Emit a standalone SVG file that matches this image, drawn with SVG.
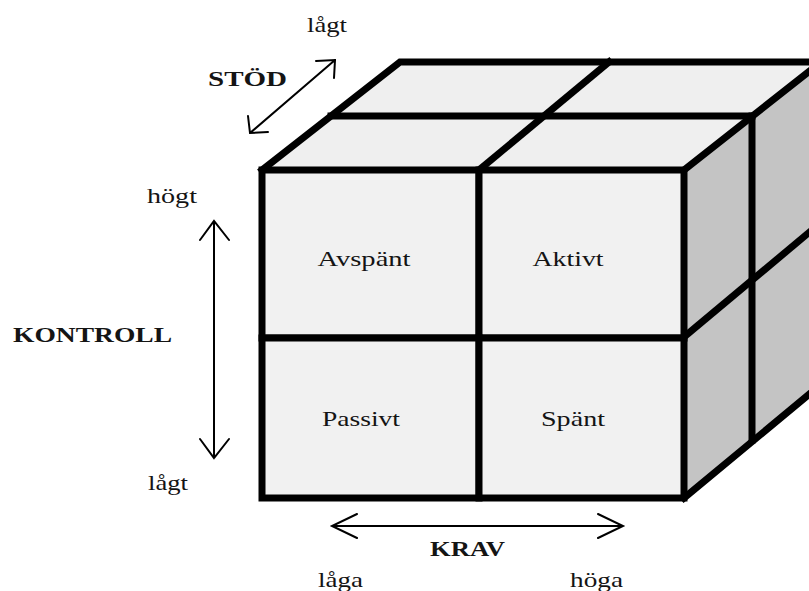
<svg xmlns="http://www.w3.org/2000/svg" width="809" height="591" viewBox="0 0 809 591">
<style>
.edge{fill:none;stroke:#000;stroke-width:7;stroke-linejoin:miter;stroke-linecap:square}
.top{fill:#efefef}
.side{fill:#c4c4c4}
.cell{fill:#f1f1f1;stroke:#000;stroke-width:7}
.arrow{fill:none;stroke:#000;stroke-width:2;stroke-linecap:round;stroke-linejoin:miter}
.lbl{font-family:"Liberation Serif","Times New Roman",serif;fill:#141414}
.cellt{font-size:22px;text-anchor:middle}
.axis{font-size:21px;font-weight:bold}
.small{font-size:21px}
</style>
<rect width="809" height="591" fill="#ffffff"/>
<g id="cube">
  <polygon class="top" points="262,170 400,62 830,62 684,170"/>
  <polygon class="side" points="684,170 830,55 830,377 684,498"/>
  <path class="edge" d="M262,170 L400,62 L830,62"/>
  <path class="edge" d="M331,116 L752,116"/>
  <path class="edge" d="M479,170 L609,62"/>
  <path class="edge" d="M684,170 L830,55"/>
  <path class="edge" d="M752,116 L752,440"/>
  <path class="edge" d="M684,337 L830,215"/>
  <path class="edge" d="M684,498 L830,377"/>
</g>
<g id="cell-avspant">
  <rect class="cell" x="262" y="170" width="217" height="168"/>
  <text class="lbl cellt" x="364" y="266" textLength="93" lengthAdjust="spacingAndGlyphs">Avspänt</text>
</g>
<g id="cell-aktivt">
  <rect class="cell" x="479" y="170" width="205" height="168"/>
  <text class="lbl cellt" x="568" y="266" textLength="71" lengthAdjust="spacingAndGlyphs">Aktivt</text>
</g>
<g id="cell-passivt">
  <rect class="cell" x="262" y="338" width="217" height="160"/>
  <text class="lbl cellt" x="361" y="426" textLength="78" lengthAdjust="spacingAndGlyphs">Passivt</text>
</g>
<g id="cell-spant">
  <rect class="cell" x="479" y="338" width="205" height="160"/>
  <text class="lbl cellt" x="573" y="426" textLength="64" lengthAdjust="spacingAndGlyphs">Spänt</text>
</g>
<g id="connectors">
  <path class="arrow" d="M250,133 L335,60 M248,116 L250,133 L268,132 M316,61 L335,60 L334,78"/>
  <path class="arrow" d="M214,221 L214,458 M200,240 L214,221 L229,240 M200,439 L214,458 L229,439"/>
  <path class="arrow" d="M332,526 L623,526 M357,514 L332,526 L357,538 M598,514 L623,526 L598,538"/>
</g>
<g id="labels">
  <text class="lbl small" x="307" y="32" textLength="40" lengthAdjust="spacingAndGlyphs">lågt</text>
  <text class="lbl axis" x="208" y="86" textLength="79" lengthAdjust="spacingAndGlyphs">STÖD</text>
  <text class="lbl small" x="147" y="203" textLength="50" lengthAdjust="spacingAndGlyphs">högt</text>
  <text class="lbl axis" x="13" y="342" textLength="159" lengthAdjust="spacingAndGlyphs">KONTROLL</text>
  <text class="lbl small" x="148" y="490" textLength="40" lengthAdjust="spacingAndGlyphs">lågt</text>
  <text class="lbl axis" x="430" y="556" textLength="75" lengthAdjust="spacingAndGlyphs">KRAV</text>
  <text class="lbl small" x="318" y="587" textLength="45" lengthAdjust="spacingAndGlyphs">låga</text>
  <text class="lbl small" x="570" y="587" textLength="53" lengthAdjust="spacingAndGlyphs">höga</text>
</g>
</svg>
